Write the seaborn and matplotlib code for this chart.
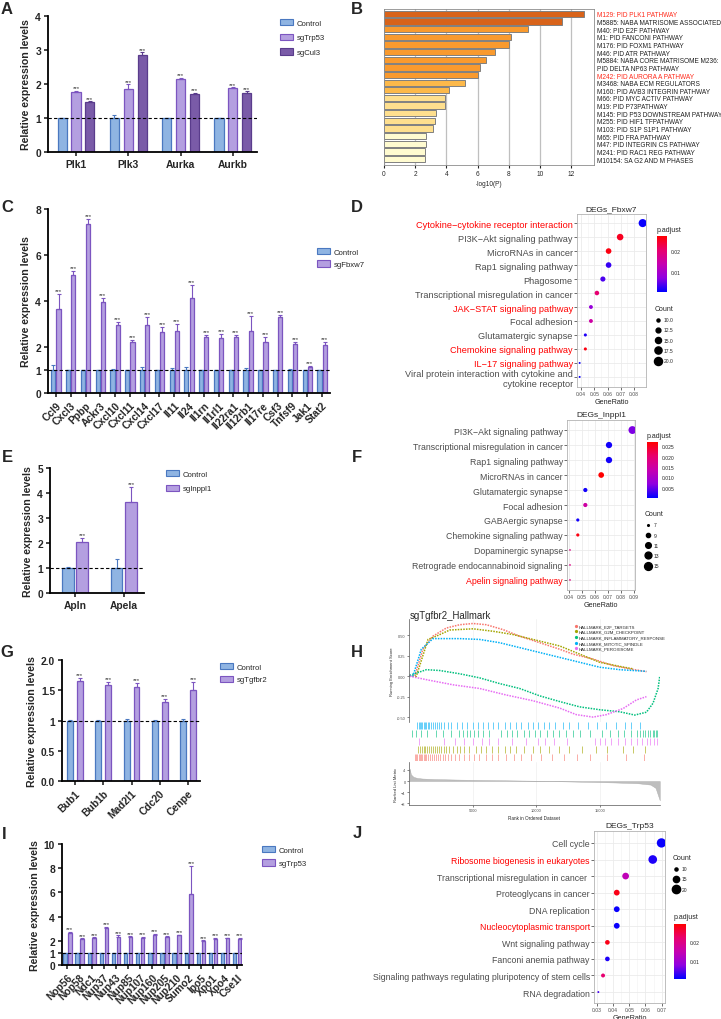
import numpy as np
import pandas as pd
import matplotlib
matplotlib.use('Agg')
import matplotlib.pyplot as plt
import seaborn as sns
from matplotlib.patches import Patch
from matplotlib.lines import Line2D
from matplotlib.colors import LinearSegmentedColormap, Normalize
from matplotlib.cm import ScalarMappable

sns.set_style('white')
plt.rcParams['font.family'] = ['Liberation Sans', 'DejaVu Sans']

# ---------------- data ----------------
# A
a_genes = ['Plk1', 'Plk3', 'Aurka', 'Aurkb']
a_groups = ['Control', 'sgTrp53', 'sgCul3']
a_ctrl = [1.0, 1.0, 1.0, 1.0]
a_ctrl_err = [0.01, 0.10, 0.01, 0.01]
a_trp53 = [1.77, 1.84, 2.15, 1.88]
a_trp53_err = [0.03, 0.15, 0.03, 0.02]
a_cul3 = [1.48, 2.85, 1.70, 1.75]
a_cul3_err = [0.01, 0.08, 0.05, 0.03]

# B
b_terms = ['M129: PID PLK1 PATHWAY', 'M5885: NABA MATRISOME ASSOCIATED', 'M40: PID E2F PATHWAY',
           'M1: PID FANCONI PATHWAY', 'M176: PID FOXM1 PATHWAY', 'M46: PID ATR PATHWAY',
           'M5884: NABA CORE MATRISOME M236:', 'PID DELTA NP63 PATHWAY', 'M242: PID AURORA A PATHWAY',
           'M3468: NABA ECM REGULATORS', 'M160: PID AVB3 INTEGRIN PATHWAY', 'M66: PID MYC ACTIV PATHWAY',
           'M19: PID P73PATHWAY', 'M145: PID P53 DOWNSTREAM PATHWAY', 'M255: PID HIF1 TFPATHWAY',
           'M103: PID S1P S1P1 PATHWAY', 'M65: PID FRA PATHWAY', 'M47: PID INTEGRIN CS PATHWAY',
           'M241: PID RAC1 REG PATHWAY', 'M10154: SA G2 AND M PHASES']
b_logp = [12.8, 11.4, 9.2, 8.15, 8.0, 7.1, 6.55, 6.15, 6.0, 5.2,
          4.15, 3.9, 3.9, 3.35, 3.25, 3.15, 2.7, 2.7, 2.65, 2.65]
b_colors = ['#D8631A'] * 2 + ['#F99A2E'] * 7 + ['#FDB94A'] * 2 + ['#FEDF8E'] * 5 + ['#FFFBD0'] * 4
b_red = [0, 8]

# C
c_genes = ['Ccl9', 'Cxcl3', 'Ppbp', 'Ackr3', 'Cxcl10', 'Cxcl11', 'Cxcl14', 'Cxcl17', 'Il11', 'Il24',
           'Il1rn', 'Il1rl1', 'Il22ra1', 'Il12rb1', 'Il17re', 'Csf3', 'Tnfsf9', 'Jak1', 'Stat2']
c_ctrl = [1.0] * 19
c_ctrl_err = [0.2, 0.01, 0.02, 0.02, 0.05, 0.02, 0.15, 0.02, 0.07, 0.15,
              0.02, 0.02, 0.02, 0.07, 0.02, 0.02, 0.05, 0.02, 0.02]
c_fbxw7 = [3.65, 5.15, 7.35, 3.95, 2.95, 2.2, 2.95, 2.65, 2.7, 4.15,
           2.45, 2.4, 2.45, 2.7, 2.2, 3.3, 2.15, 1.15, 2.1]
c_fbxw7_err = [0.65, 0.15, 0.2, 0.18, 0.15, 0.12, 0.35, 0.2, 0.3, 0.55,
               0.08, 0.15, 0.08, 0.65, 0.25, 0.1, 0.08, 0.03, 0.1]

# D
d_terms = ['Cytokine\u2212cytokine receptor interaction', 'PI3K\u2212Akt signaling pathway',
           'MicroRNAs in cancer', 'Rap1 signaling pathway', 'Phagosome',
           'Transcriptional misregulation in cancer', 'JAK\u2212STAT signaling pathway',
           'Focal adhesion', 'Glutamatergic synapse', 'Chemokine signaling pathway',
           'IL\u221217 signaling pathway', 'Viral protein interaction with cytokine and\ncytokine receptor']
d_ratio = [0.0865, 0.0695, 0.0608, 0.0608, 0.0565, 0.052, 0.0475, 0.0475, 0.0433, 0.0433, 0.039, 0.039]
d_count = [20, 16, 14, 14, 13, 12, 11, 11, 10, 10, 9, 9]
d_padj = [0.001, 0.025, 0.026, 0.003, 0.004, 0.02, 0.008, 0.015, 0.002, 0.026, 0.001, 0.001]
d_red = [0, 6, 9, 10]

# E
e_genes = ['Apln', 'Apela']
e_ctrl = [1.0, 1.0]
e_ctrl_err = [0.03, 0.35]
e_inppl1 = [2.05, 3.65]
e_inppl1_err = [0.15, 0.6]

# F
f_terms = ['PI3K\u2212Akt signaling pathway', 'Transcriptional misregulation in cancer',
           'Rap1 signaling pathway', 'MicroRNAs in cancer', 'Glutamatergic synapse', 'Focal adhesion',
           'GABAergic synapse', 'Chemokine signaling pathway', 'Dopaminergic synapse',
           'Retrograde endocannabinoid signaling', 'Apelin signaling pathway']
f_ratio = [0.089, 0.071, 0.071, 0.065, 0.0528, 0.0528, 0.047, 0.047, 0.041, 0.041, 0.041]
f_count = [15, 12, 12, 11, 9, 9, 8, 8, 7, 7, 7]
f_padj = [0.006, 0.001, 0.001, 0.027, 0.001, 0.015, 0.001, 0.026, 0.018, 0.018, 0.018]
f_red = [10]

# G
g_genes = ['Bub1', 'Bub1b', 'Mad2l1', 'Cdc20', 'Cenpe']
g_ctrl = [1.0, 1.0, 1.0, 1.0, 1.0]
g_ctrl_err = [0.01, 0.01, 0.03, 0.01, 0.02]
g_tgfbr2 = [1.65, 1.59, 1.56, 1.31, 1.51]
g_tgfbr2_err = [0.05, 0.05, 0.06, 0.05, 0.13]

# H (GSEA)
h_sets = ['HALLMARK_E2F_TARGETS', 'HALLMARK_G2M_CHECKPOINT', 'HALLMARK_INFLAMMATORY_RESPONSE',
          'HALLMARK_MITOTIC_SPINDLE', 'HALLMARK_PEROXISOME']
h_colors = ['#F8766D', '#A3A500', '#00BF7D', '#00B0F6', '#E76BF3']
h_e2f_rank = [0, 400, 1050, 1840, 2900, 3950, 5000, 6050, 7370, 8680, 10260, 11840, 12890, 14470, 16050, 17370, 18680]
h_e2f_es = [0, 0, 0.33, 0.49, 0.59, 0.63, 0.645, 0.63, 0.57, 0.49, 0.41, 0.33, 0.27, 0.21, 0.13, 0.09, 0.056]
h_g2m_rank = [0, 530, 1450, 2100, 3160, 5000, 6580, 8150, 9730, 11840, 13420, 15000, 16580, 17630]
h_g2m_es = [0, 0, 0.45, 0.49, 0.565, 0.58, 0.55, 0.51, 0.45, 0.37, 0.27, 0.17, 0.12, 0.09]
h_inf_rank = [0, 1320, 2370, 3950, 5520, 7100, 8680, 10260, 11840, 13420, 15000, 16580, 17760, 18680, 19200, 19600, 19730]
h_inf_es = [0.01, 0.08, 0.07, 0.03, -0.02, -0.09, -0.15, -0.24, -0.31, -0.375, -0.41, -0.435, -0.475, -0.44, -0.33, -0.15, 0]
h_mit_rank = [0, 260, 920, 1840, 2370, 3950, 5520, 7100, 8680, 10260, 11840, 13420, 15000, 16580, 18680]
h_mit_es = [0, 0, 0.33, 0.46, 0.46, 0.46, 0.45, 0.41, 0.35, 0.29, 0.23, 0.17, 0.11, 0.08, 0.06]
h_per_rank = [0, 1580, 3420, 5520, 7630, 9730, 11840, 13150, 14470, 15520, 16840, 17890, 18680]
h_per_es = [0, -0.05, -0.105, -0.15, -0.23, -0.30, -0.39, -0.47, -0.50, -0.47, -0.395, -0.29, -0.25]
h_hits_mit = [550, 700, 800, 900, 1000, 1100, 1200, 1300, 1450, 1550, 1700, 1850, 2000, 2150, 2300, 2500,
              2700, 3000, 3300, 3700, 4100, 4500, 5000, 5400, 5800, 6200, 6600, 7000, 7500, 7900, 8400,
              8800, 9300, 9700, 10100, 10600, 11000, 11500, 12100, 12600, 13300, 14100, 14800, 15500,
              16300, 17000, 17500, 18200]
h_hits_inf = [150, 500, 900, 1400, 2100, 2600, 3300, 3900, 4200, 4500, 4800, 5100, 5400, 5800, 6300, 7200,
              7700, 8100, 8500, 9000, 9400, 9900, 10300, 10800, 11300, 11800, 12300, 12900, 13400, 14200,
              15200, 15800, 16400, 16900, 17500, 17900, 18200, 18400, 18600, 18800, 19000, 19200, 19300,
              19400, 19500]
h_hits_per = [700, 2700, 3600, 4300, 5000, 5700, 6300, 7000, 8100, 9200, 10100, 10700, 11400, 12400, 14600,
              15000, 15400, 15900, 16400, 17000, 17500, 17900, 18300, 18700, 19000, 19300, 19500]
h_hits_g2m = [650, 800, 950, 1100, 1250, 1400, 1550, 1700, 1850, 2000, 2150, 2300, 2500, 2700, 2900, 3100,
              3400, 3700, 4000, 4300, 4700, 5200, 5600, 6000, 6500, 7000, 7500, 7900, 8400, 9000, 9700,
              10300, 11000, 11800, 12600, 13600, 14700, 15600, 16800, 17600, 18600]
h_hits_e2f = [400, 500, 600, 700, 800, 900, 1000, 1100, 1200, 1300, 1450, 1600, 1750, 1900, 2050, 2200,
              2400, 2600, 2800, 3000, 3300, 3600, 3900, 4300, 4700, 5100, 5500, 6000, 6500, 7000, 7600,
              8200, 8800, 9600, 10400, 11200, 12200, 13200, 14200, 15600, 17100, 18500]
h_metric_rank = [0, 100, 300, 600, 1000, 2000, 4000, 7000, 10000, 13000, 16000, 18000, 19000, 19400, 19730]
h_metric = [4.5, 2.4, 1.5, 1.1, 0.9, 0.7, 0.5, 0.3, 0.1, -0.2, -0.5, -0.8, -1.3, -2.5, -7.0]

# I
i_genes = ['Nop56', 'Nop58', 'Ndc1', 'Nup37', 'Nup43', 'Nup85', 'Nup107', 'Nup160', 'Nup205', 'Nup210',
           'Sumo2', 'Ipo5', 'Xpo1', 'Xpo4', 'Cse1l']
i_ctrl = [1.0] * 15
i_ctrl_err = [0.02] * 15
i_trp53 = [2.65, 2.15, 2.2, 3.05, 2.35, 2.3, 2.25, 2.45, 2.3, 2.45, 5.85, 2.0, 2.15, 2.2, 2.15]
i_trp53_err = [0.1, 0.05, 0.1, 0.12, 0.1, 0.07, 0.07, 0.1, 0.08, 0.07, 2.35, 0.05, 0.1, 0.05, 0.1]

# J
j_terms = ['Cell cycle', 'Ribosome biogenesis in eukaryotes', 'Transcriptional misregulation in cancer ',
           'Proteoglycans in cancer', 'DNA replication', 'Nucleocytoplasmic transport',
           'Wnt signaling pathway', 'Fanconi anemia pathway',
           'Signaling pathways regulating pluripotency of stem cells', 'RNA degradation']
j_ratio = [0.0699, 0.0645, 0.0477, 0.0422, 0.0422, 0.0422, 0.0364, 0.0364, 0.0337, 0.0308]
j_count = [23, 21, 16, 14, 14, 14, 12, 12, 11, 9]
j_padj = [0.001, 0.002, 0.014, 0.028, 0.001, 0.001, 0.028, 0.002, 0.022, 0.004]
j_red = [1, 5]

# ---------------- styling ----------------
CTRL = ('#8FB4E2', '#4A78C0')
SG = ('#B49FE0', '#7C55C0')
CUL = ('#7A5BA8', '#5A3C8C')
padj_cmap = LinearSegmentedColormap.from_list('padj', ['#0000FF', '#9000E0', '#C600B0', '#E8006E', '#FF0000'])

W, H = 721, 1020
fig = plt.figure(figsize=(W / 100, H / 100), dpi=100)


def px_axes(x0, y0, x1, y1):
    return fig.add_axes([x0 / W, 1 - y1 / H, (x1 - x0) / W, (y1 - y0) / H])


def bar_panel(box, genes, groups, vals, errs, cols, width, gap, ymax, yticks, ytl, xlim,
              rotate, leg_xy, leg_sp):
    ax = px_axes(*box)
    df = pd.DataFrame({'gene': np.tile(genes, len(groups)),
                       'group': np.repeat(groups, len(genes)),
                       'value': np.concatenate(vals)})
    sns.barplot(data=df, x='gene', y='value', hue='group', order=genes, hue_order=groups,
                palette=[c[0] for c in cols], saturation=1, width=width, gap=gap, errorbar=None,
                linewidth=0.9, legend=False, ax=ax, zorder=2)
    for k, (cont, err, c) in enumerate(zip(ax.containers, errs, cols)):
        xs = [p.get_x() + p.get_width() / 2 for p in cont]
        hs = [p.get_height() for p in cont]
        for p in cont:
            p.set_edgecolor(c[1])
        ax.errorbar(xs, hs, yerr=[np.zeros(len(err)), err], fmt='none', ecolor=c[1],
                    elinewidth=0.8, capsize=1.6, capthick=0.8, zorder=3)
        if k > 0:
            for x, h, e in zip(xs, hs, err):
                ax.text(x, h + e + ymax * 0.005, '***', ha='center', va='bottom', fontsize=4.3)
    ax.axhline(1, color='black', ls=(0, (3, 2)), lw=0.8, zorder=4)
    ax.set_xlim(*xlim)
    ax.set_ylim(0, ymax)
    ax.set_yticks(yticks)
    ax.set_yticklabels(ytl)
    ax.set_xticks(range(len(genes)))
    if rotate:
        ax.set_xticklabels(genes, rotation=45, ha='right', rotation_mode='anchor')
    else:
        ax.set_xticklabels(genes)
    for lab in ax.get_xticklabels() + ax.get_yticklabels():
        lab.set_fontweight('bold')
        lab.set_fontsize(7.4)
    ax.tick_params(direction='out', length=3, width=1.2, pad=2, bottom=True, left=True)
    for s in ['top', 'right']:
        ax.spines[s].set_visible(False)
    for s in ['left', 'bottom']:
        ax.spines[s].set_linewidth(1.3)
        ax.spines[s].set_color('black')
    ax.set_xlabel('')
    ax.set_ylabel('Relative expression levels', fontsize=7.6, fontweight='bold', labelpad=3)
    handles = [Patch(facecolor=c[0], edgecolor=c[1], lw=0.8, label=g) for g, c in zip(groups, cols)]
    ax.legend(handles=handles, loc='upper left', bbox_to_anchor=(leg_xy[0] / W, 1 - leg_xy[1] / H),
              bbox_transform=fig.transFigure, frameon=False, fontsize=5.6, handlelength=1.7,
              handleheight=0.9, labelspacing=leg_sp, borderpad=0, borderaxespad=0, handletextpad=0.5)
    return ax


def dot_panel(box, terms, ratio, count, padj, reds, title, xticks, xlim, ylim, cmin, cmax, smin, smax,
              pnorm, cbox, cticks, ctl, cb_xy, leg_xy, leg_counts, leg_labels, label_fs):
    ax = px_axes(*box)
    df = pd.DataFrame({'pos': np.arange(len(terms)), 'ratio': ratio, 'Count': count, 'padj': padj})
    norm = Normalize(*pnorm)
    sns.scatterplot(data=df, x='ratio', y='pos', hue='padj', palette=padj_cmap, hue_norm=norm,
                    size='Count', sizes=(smin, smax), size_norm=(cmin, cmax), edgecolor='none',
                    linewidth=0, legend=False, ax=ax, zorder=3)
    ax.set_xlim(*xlim)
    ax.set_ylim(*ylim)
    ax.set_yticks(range(len(terms)))
    ax.set_yticklabels(terms, fontsize=label_fs, color='#4D4D4D')
    for i, lab in enumerate(ax.get_yticklabels()):
        if i in reds:
            lab.set_color('#FF0000')
    ax.set_xticks(xticks)
    ax.set_xticklabels(['%.2f' % t for t in xticks], fontsize=3.6, color='#4D4D4D')
    ax.set_xticks([t + 0.005 for t in xticks[:-1]], minor=True)
    ax.grid(which='major', color='#EBEBEB', lw=0.6)
    ax.grid(which='minor', axis='x', color='#F2F2F2', lw=0.4)
    ax.set_axisbelow(True)
    ax.tick_params(which='major', length=2, width=0.5, color='#333333', pad=1, left=True, bottom=True)
    ax.tick_params(which='minor', length=0)
    for s in ax.spines.values():
        s.set_color('#B3B3B3')
        s.set_linewidth(0.6)
    ax.set_title(title, fontsize=6, pad=3)
    ax.set_xlabel('GeneRatio', fontsize=5.2, labelpad=1)
    ax.set_ylabel('')
    cax = px_axes(*cbox)
    cb = fig.colorbar(ScalarMappable(norm=norm, cmap=padj_cmap), cax=cax)
    cb.outline.set_visible(False)
    cb.set_ticks(cticks)
    cb.set_ticklabels(ctl)
    cb.ax.tick_params(labelsize=3.6, length=1.5, color='white', pad=1.5)
    fig.text(cb_xy[0] / W, 1 - cb_xy[1] / H, 'p.adjust', fontsize=5, va='center')
    handles = [Line2D([0], [0], marker='o', ls='none', color='black',
                      markersize=np.sqrt(smin + (c - cmin) / (cmax - cmin) * (smax - smin)))
               for c in leg_counts]
    fig.legend(handles, leg_labels, loc='upper left', bbox_to_anchor=(leg_xy[0] / W, 1 - leg_xy[1] / H),
               frameon=False, title='Count', title_fontsize=5, fontsize=3.6, alignment='left',
               labelspacing=1.05, handletextpad=0.6, borderpad=0, borderaxespad=0, handlelength=1.2)
    return ax


# ---------------- A ----------------
bar_panel((48, 17, 257, 153), a_genes, a_groups, [a_ctrl, a_trp53, a_cul3],
          [a_ctrl_err, a_trp53_err, a_cul3_err], [CTRL, SG, CUL], 0.8, 0.35, 4, [0, 1, 2, 3, 4],
          ['0', '1', '2', '3', '4'], (-0.535, 3.46), False, (280, 20), 0.85)

# ---------------- B ----------------
axb = px_axes(384, 10, 594, 166)
dfb = pd.DataFrame({'term': b_terms, 'logp': b_logp})
sns.barplot(data=dfb, x='logp', y='term', hue='term', palette=b_colors, legend=False, saturation=1,
            width=0.82, edgecolor='#808080', linewidth=0.7, orient='h', ax=axb, zorder=2)
axb.set_xlim(0, 13.45)
axb.set_ylim(19.77, -0.64)
axb.yaxis.tick_right()
axb.tick_params(axis='y', length=0, labelsize=4.7, pad=2)
axb.set_xticks(range(0, 13, 2))
axb.tick_params(axis='x', labelsize=4.7, length=2, pad=1.5, bottom=True)
axb.grid(axis='x', color='#BFBFBF', lw=0.9)
axb.set_axisbelow(True)
axb.set_xlabel('-log10(P)', fontsize=4.7, labelpad=2)
axb.set_ylabel('')
for i, lab in enumerate(axb.get_yticklabels()):
    lab.set_color('#FF2A1A' if i in b_red else '#222222')
for s in axb.spines.values():
    s.set_color('#8C8C8C')
    s.set_linewidth(0.6)

# ---------------- C ----------------
bar_panel((48, 210, 330, 394), c_genes, ['Control', 'sgFbxw7'], [c_ctrl, c_fbxw7],
          [c_ctrl_err, c_fbxw7_err], [CTRL, SG], 0.7, 0.2, 8, [0, 1, 2, 4, 6, 8],
          ['0', '1', '2', '4', '6', '8'], (-0.54, 18.54), True, (317, 249), 0.55)

# ---------------- D ----------------
dot_panel((577, 215, 646, 388), d_terms, d_ratio, d_count, d_padj, d_red, 'DEGs_Fbxw7',
          [0.04, 0.05, 0.06, 0.07, 0.08], (0.037, 0.089), (11.72, -0.65), 9, 20, 2, 34,
          (0.0005, 0.027), (657, 237, 667, 293), [0.01, 0.02], ['0.01', '0.02'], (657, 231),
          (655, 306), [10, 12.5, 15, 17.5, 20], ['10.0', '12.5', '15.0', '17.5', '20.0'], 6.6)

# ---------------- E ----------------
bar_panel((50, 469, 144, 594), e_genes, ['Control', 'sgInppl1'], [e_ctrl, e_inppl1],
          [e_ctrl_err, e_inppl1_err], [CTRL, SG], 0.6, 0.2, 5, [0, 1, 2, 3, 4, 5],
          ['0', '1', '2', '3', '4', '5'], (-0.51, 1.41), False, (166, 471), 0.85)

# ---------------- F ----------------
dot_panel((567, 421, 635, 591), f_terms, f_ratio, f_count, f_padj, f_red, 'DEGs_Inppl1',
          [0.04, 0.05, 0.06, 0.07, 0.08, 0.09], (0.0387, 0.091), (10.67, -0.67), 7, 15, 1.5, 32,
          (0.0001, 0.027), (647, 443, 658, 499), [0.005, 0.01, 0.015, 0.02, 0.025],
          ['0.005', '0.010', '0.015', '0.020', '0.025'], (647, 437),
          (645, 511), [7, 9, 11, 13, 15], ['7', '9', '11', '13', '15'], 6.3)

# ---------------- G ----------------
bar_panel((62, 661, 200, 782), g_genes, ['Control', 'sgTgfbr2'], [g_ctrl, g_tgfbr2],
          [g_ctrl_err, g_tgfbr2_err], [CTRL, SG], 0.7, 0.4, 2, [0, 0.5, 1, 1.5, 2],
          ['0.0', '0.5', '1', '1.5', '2.0'], (-0.46, 4.42), True, (220, 664), 0.6)

# ---------------- H ----------------
h_es = px_axes(409, 620, 660, 723)
h_curves = pd.concat([
    pd.DataFrame({'rank': r, 'es': e, 'set': s})
    for r, e, s in zip([h_e2f_rank, h_g2m_rank, h_inf_rank, h_mit_rank, h_per_rank],
                       [h_e2f_es, h_g2m_es, h_inf_es, h_mit_es, h_per_es], h_sets)])
sns.lineplot(data=h_curves, x='rank', y='es', hue='set', hue_order=h_sets, palette=h_colors,
             sort=False, estimator=None, linestyle=(0, (1, 0.8)), lw=1.1, legend=False, ax=h_es)
h_es.set_xlim(-50, 19750)
h_es.set_ylim(-0.56, 0.70)
h_es.set_yticks([-0.5, -0.25, 0, 0.25, 0.5])
h_es.set_yticklabels(['-0.50', '-0.25', '0.00', '0.25', '0.50'])
h_es.set_xticks([5000, 10000, 15000])
h_es.tick_params(axis='x', length=0, labelbottom=False)
h_es.tick_params(axis='y', labelsize=2.8, length=1.5, width=0.4, pad=1, labelcolor='#4D4D4D', left=True)
h_es.grid(axis='x', color='#EEEEEE', lw=0.5)
h_es.set_xlabel('')
h_es.set_ylabel('Running Enrichment Score', fontsize=3, labelpad=2)
for s in ['top', 'right', 'bottom']:
    h_es.spines[s].set_visible(False)
h_es.spines['left'].set_color('#555555')
h_es.spines['left'].set_linewidth(0.5)
h_es.text(410 / W, 1 - 616 / H, 'sgTgfbr2_Hallmark', transform=fig.transFigure, fontsize=6.9, va='center')
h_es.legend(handles=[Line2D([0], [0], marker='o', ls='none', color=c, markersize=1.3) for c in h_colors],
            labels=h_sets, loc='upper left', bbox_to_anchor=(574 / W, 1 - 625 / H),
            bbox_transform=fig.transFigure, frameon=False, fontsize=3.2, labelspacing=0.35,
            handletextpad=0.2, handlelength=0.8, borderpad=0, borderaxespad=0)

h_bc = px_axes(409, 723, 660, 762)
for row, (hits, col) in enumerate(zip([h_hits_mit, h_hits_inf, h_hits_per, h_hits_g2m, h_hits_e2f],
                                      ['#00B0F6', '#00BF7D', '#E76BF3', '#A3A500', '#F8766D'])):
    h_bc.vlines(hits, row + 0.05, row + 0.95, color=col, lw=0.7, alpha=0.6)
h_bc.set_xlim(-50, 19750)
h_bc.set_ylim(5, 0)
h_bc.axis('off')

h_rk = px_axes(409, 763, 660, 806)
h_rk.fill_between(h_metric_rank, h_metric, 0, color='#BEBEBE', lw=0.3, edgecolor='#AAAAAA')
h_rk.set_xlim(-50, 19750)
h_rk.set_ylim(-8.7, 6.9)
h_rk.set_yticks([-8, -4, 0, 4])
h_rk.set_xticks([5000, 10000, 15000])
h_rk.tick_params(labelsize=2.8, length=1.5, width=0.4, pad=1, labelcolor='#4D4D4D', left=True, bottom=True)
h_rk.grid(axis='x', color='#EEEEEE', lw=0.5)
h_rk.set_axisbelow(True)
h_rk.set_xlabel('Rank in Ordered Dataset', fontsize=3.3, labelpad=1.5)
h_rk.set_ylabel('Ranked List Metric', fontsize=3, labelpad=2)
for s in ['top', 'right']:
    h_rk.spines[s].set_visible(False)
for s in ['left', 'bottom']:
    h_rk.spines[s].set_color('#555555')
    h_rk.spines[s].set_linewidth(0.5)

# ---------------- I ----------------
bar_panel((62, 845, 242, 966), i_genes, ['Control', 'sgTrp53'], [i_ctrl, i_trp53],
          [i_ctrl_err, i_trp53_err], [CTRL, SG], 0.8, 0.3, 10, [0, 1, 2, 4, 6, 8, 10],
          ['0', '1', '2', '4', '6', '8', '10'], (-0.45, 14.4), True, (262, 847), 0.7)

# ---------------- J ----------------
dot_panel((594, 832, 665, 1004), j_terms, j_ratio, j_count, j_padj, j_red, 'DEGs_Trp53',
          [0.03, 0.04, 0.05, 0.06, 0.07], (0.0281, 0.0721), (9.66, -0.72), 9, 23, 2, 45,
          (0.0005, 0.0295), (674, 925, 686, 980), [0.01, 0.02], ['0.01', '0.02'], (674, 918),
          (673, 855), [10, 15, 20], ['10', '15', '20'], 6.3)

# ---------------- panel letters ----------------
for letter, x, y in [('A', 7, 9), ('B', 357, 9), ('C', 7, 208), ('D', 357, 208), ('E', 7, 458),
                     ('F', 357, 458), ('G', 7, 653), ('H', 357, 653), ('I', 4, 835), ('J', 357, 834)]:
    fig.text(x / W, 1 - y / H, letter, fontsize=12, fontweight='bold', ha='center', va='center')

fig.savefig('out.png', dpi=100)
